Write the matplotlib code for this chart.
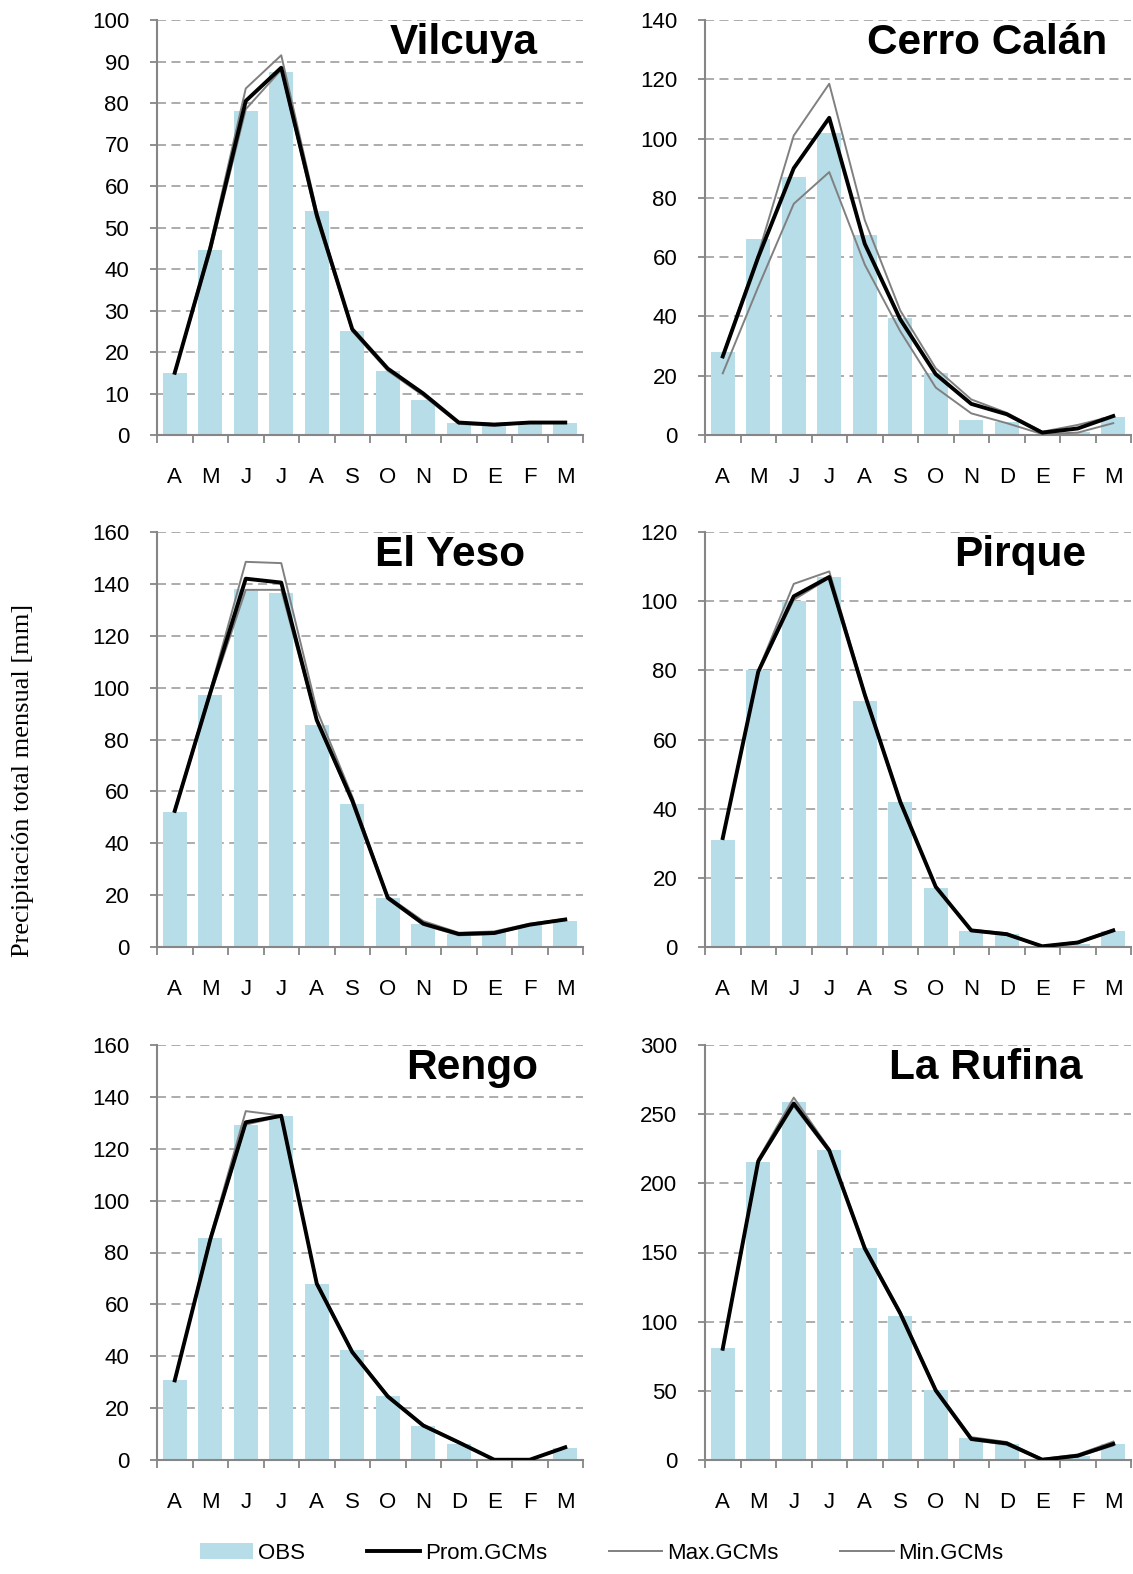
import matplotlib
matplotlib.use('Agg')
import matplotlib.pyplot as plt
import numpy as np

plt.rcParams['font.family'] = ['Liberation Sans', 'DejaVu Sans']

meses = ['A', 'M', 'J', 'J', 'A', 'S', 'O', 'N', 'D', 'E', 'F', 'M']

estaciones = ['Vilcuya', 'Cerro Calán', 'El Yeso', 'Pirque', 'Rengo', 'La Rufina']

obs_vilcuya = [15, 44.5, 78, 87.5, 54, 25, 15.5, 8.5, 3, 2.5, 3, 3]
prom_vilcuya = [15, 45, 80.5, 88.5, 53, 25.5, 16, 10, 3, 2.5, 3, 3]
max_vilcuya = [15, 46, 83.5, 91.5, 54, 25.5, 16, 10, 3, 2.7, 3, 3]
min_vilcuya = [15, 44, 78.5, 88, 52, 25, 15.5, 9.5, 2.7, 2.2, 3, 3]

obs_calan = [28, 66, 87, 102, 67.5, 39.5, 21, 5, 4.5, 0.5, 1, 6.2]
prom_calan = [26.5, 60, 90, 107, 64.5, 39, 20.5, 10.5, 7, 0.8, 2.2, 6.4]
max_calan = [27, 61, 101, 118.5, 72.5, 42, 22.5, 12, 7.5, 1.1, 3.4, 6.4]
min_calan = [20.8, 50, 78, 88.7, 57.5, 35, 16, 7.3, 4, 0.3, 0.8, 4]

obs_yeso = [52, 97, 138, 136.5, 85.5, 55, 18.7, 8.8, 5.2, 5.8, 8.6, 10.2]
prom_yeso = [52.5, 98, 142, 140.5, 87.5, 56.5, 19, 9, 5, 5.4, 8.6, 10.6]
max_yeso = [53, 99, 148.5, 148, 91.5, 58, 19.5, 10, 5.5, 6, 9, 10.8]
min_yeso = [52, 97, 137.7, 137.7, 87, 55.5, 18.5, 8.5, 4.5, 5, 8.5, 10.4]

obs_pirque = [31, 80, 100, 107, 71, 42, 17, 4.6, 3.9, 0.3, 1, 4.6]
prom_pirque = [31.5, 79.6, 101.4, 107, 73, 42, 17.4, 4.8, 3.7, 0.2, 1.3, 4.8]
max_pirque = [31.5, 80, 105, 108.6, 73.5, 42.5, 17.6, 5, 4, 0.3, 1.5, 5]
min_pirque = [31.3, 79.4, 100.4, 106.7, 72.5, 41.5, 17.2, 4.6, 3.5, 0.1, 1.1, 4.6]

obs_rengo = [30.7, 85.6, 129, 132.5, 67.7, 42.3, 24.5, 13, 6.2, 0, 0, 4.5]
prom_rengo = [30.7, 85, 130.2, 132.7, 68, 41.6, 24.5, 13.3, 6.8, 0.1, 0.1, 4.9]
max_rengo = [31, 86, 134.5, 132.8, 68.5, 42, 25, 13.6, 7, 0.2, 0.2, 5]
min_rengo = [30.5, 84.5, 129.3, 132.5, 67.5, 41.2, 24.2, 13, 6.5, 0, 0, 4.6]

obs_rufina = [81, 215.5, 258.5, 224, 153, 104, 50.3, 15.7, 11.6, 0.5, 3, 11.6]
prom_rufina = [80.5, 216, 257.7, 223.8, 153, 106, 50.3, 15.2, 12, 0.2, 3.1, 11.6]
max_rufina = [81.5, 217.5, 262, 225, 154.5, 107.5, 51.5, 16.5, 13, 0.8, 4, 13.3]
min_rufina = [79.5, 215, 256, 222.5, 152, 105, 49.5, 14.5, 11, 0, 2.5, 10.5]

obs = [obs_vilcuya, obs_calan, obs_yeso, obs_pirque, obs_rengo, obs_rufina]
prom = [prom_vilcuya, prom_calan, prom_yeso, prom_pirque, prom_rengo, prom_rufina]
maxg = [max_vilcuya, max_calan, max_yeso, max_pirque, max_rengo, max_rufina]
ming = [min_vilcuya, min_calan, min_yeso, min_pirque, min_rengo, min_rufina]

ymax = [100, 140, 160, 120, 160, 300]
ystep = [10, 20, 20, 20, 20, 50]
titulo_x = [0.893, 0.945, 0.865, 0.895, 0.895, 0.885]

fig = plt.figure(figsize=(11.33, 15.74), dpi=100)

lefts = [157 / 1133, 705 / 1133]
width = 426 / 1133
bottoms = [1 - 435 / 1574, 1 - 947 / 1574, 1 - 1460 / 1574]
height = 415 / 1574

x = np.arange(12)
for i in range(6):
    ax = fig.add_axes([lefts[i % 2], bottoms[i // 2], width, height])
    b = ax.bar(x, obs[i], width=0.67, color='#b7dde8', zorder=2)
    lmax, = ax.plot(x, maxg[i], color='#808080', lw=1.4, zorder=3)
    lmin, = ax.plot(x, ming[i], color='#808080', lw=1.4, zorder=3)
    lprom, = ax.plot(x, prom[i], color='black', lw=2.8, zorder=4)

    ax.set_xlim(-0.5, 11.5)
    ax.set_ylim(0, ymax[i])
    ax.set_yticks(np.arange(0, ymax[i] + 1, ystep[i]))
    ax.yaxis.grid(True, color='#a6a6a6', lw=1.3, linestyle=(0, (5, 3)))
    ax.set_axisbelow(True)

    ax.set_xticks(np.arange(-0.5, 12, 1))
    ax.set_xticklabels([])
    ax.set_xticks(x, minor=True)
    ax.set_xticklabels(meses, minor=True)
    ax.tick_params(axis='x', which='major', length=6, width=1.3, color='#868686')
    ax.tick_params(axis='x', which='minor', length=0, pad=23, labelsize=16)
    ax.tick_params(axis='y', length=5, width=1.3, color='#868686', pad=15, labelsize=16)

    for s in ['top', 'right']:
        ax.spines[s].set_visible(False)
    for s in ['left', 'bottom']:
        ax.spines[s].set_color('#868686')
        ax.spines[s].set_linewidth(1.5)

    ax.text(titulo_x[i], 0.945, estaciones[i], transform=ax.transAxes,
            ha='right', va='center', fontsize=30.5, fontweight='bold')

    if i == 0:
        handles = [b, lprom, lmax, lmin]

fig.legend(handles, ['OBS', 'Prom.GCMs', 'Max.GCMs', 'Min.GCMs'],
           loc='center', bbox_to_anchor=(0.531, 0.013), ncol=4, frameon=False,
           handlelength=2.4, handletextpad=0.2, columnspacing=2.8,
           prop={'family': ['Liberation Sans Narrow', 'Liberation Sans'], 'size': 16})

fig.text(0.02, 0.504, 'Precipitación total mensual [mm]', rotation=90,
         ha='center', va='center', fontsize=19, family=['Liberation Serif', 'DejaVu Serif'])

fig.savefig('out.png', dpi=100)
